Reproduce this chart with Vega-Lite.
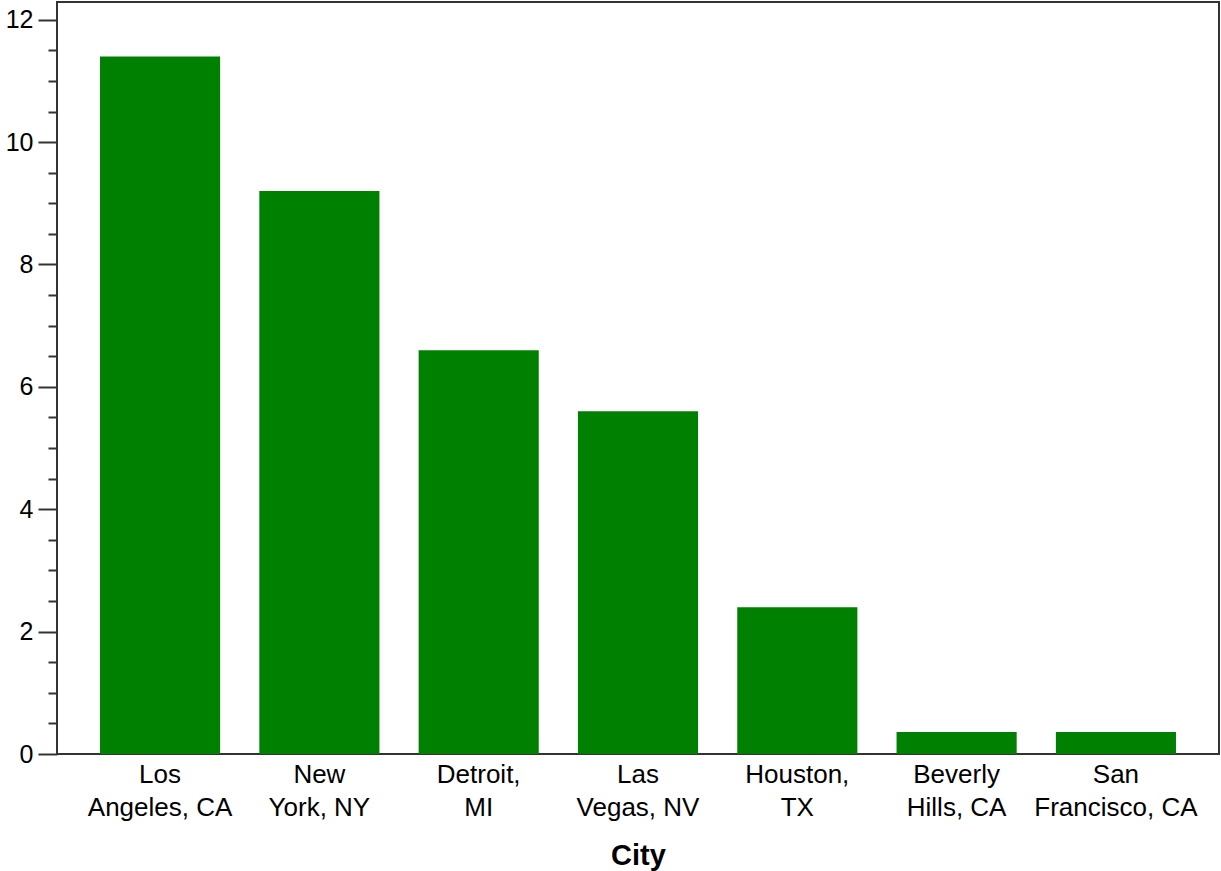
{
  "$schema": "https://vega.github.io/schema/vega-lite/v6.json",
  "autosize": "none",
  "width": 1162,
  "height": 752,
  "padding": {"left": 57, "top": 2, "right": 2, "bottom": 117},
  "background": "white",
  "config": {
    "view": {"stroke": "#333333", "strokeWidth": 2},
    "font": "Liberation Sans"
  },
  "data": {
    "values": [
      {"city": "Los Angeles, CA", "value": 11.4},
      {"city": "New York, NY", "value": 9.2},
      {"city": "Detroit, MI", "value": 6.6},
      {"city": "Las Vegas, NV", "value": 5.6},
      {"city": "Houston, TX", "value": 2.4},
      {"city": "Beverly Hills, CA", "value": 0.36},
      {"city": "San Francisco, CA", "value": 0.36}
    ]
  },
  "encoding": {
    "x": {
      "field": "city",
      "type": "nominal",
      "sort": null,
      "scale": {"paddingInner": 0.246, "paddingOuter": 0.27},
      "axis": {
        "title": "City",
        "titleFont": "Liberation Sans",
        "titleFontSize": 29,
        "titleFontWeight": "bold",
        "titleColor": "#000000",
        "titlePadding": 21,
        "labelFont": "Liberation Sans",
        "labelFontSize": 26,
        "labelColor": "#000000",
        "labelAngle": 0,
        "labelLineHeight": 33,
        "labelPadding": 7,
        "labelExpr": "split(replace(datum.label, ' ', '|'), '|')",
        "ticks": false,
        "domain": false
      }
    }
  },
  "layer": [
    {
      "mark": {"type": "bar", "color": "#008000"},
      "encoding": {
        "y": {
          "field": "value",
          "type": "quantitative",
          "scale": {"domain": [0, 12.29], "nice": false},
          "axis": {
            "orient": "left",
            "title": null,
            "values": [0, 2, 4, 6, 8, 10, 12],
            "grid": false,
            "domain": false,
            "tickSize": 19,
            "tickWidth": 2,
            "tickColor": "#333333",
            "labelFont": "Liberation Sans",
            "labelFontSize": 25,
            "labelColor": "#000000",
            "labelPadding": 5
          }
        }
      }
    },
    {
      "mark": {"type": "bar", "opacity": 0},
      "encoding": {
        "y": {
          "field": "value",
          "type": "quantitative",
          "scale": {"domain": [0, 12.29], "nice": false},
          "axis": {
            "orient": "left",
            "title": null,
            "values": [0.5, 1, 1.5, 2.5, 3, 3.5, 4.5, 5, 5.5, 6.5, 7, 7.5, 8.5, 9, 9.5, 10.5, 11, 11.5],
            "grid": false,
            "domain": false,
            "labels": false,
            "tickSize": 9,
            "tickWidth": 2,
            "tickColor": "#333333"
          }
        }
      }
    }
  ],
  "resolve": {"axis": {"y": "independent"}}
}
